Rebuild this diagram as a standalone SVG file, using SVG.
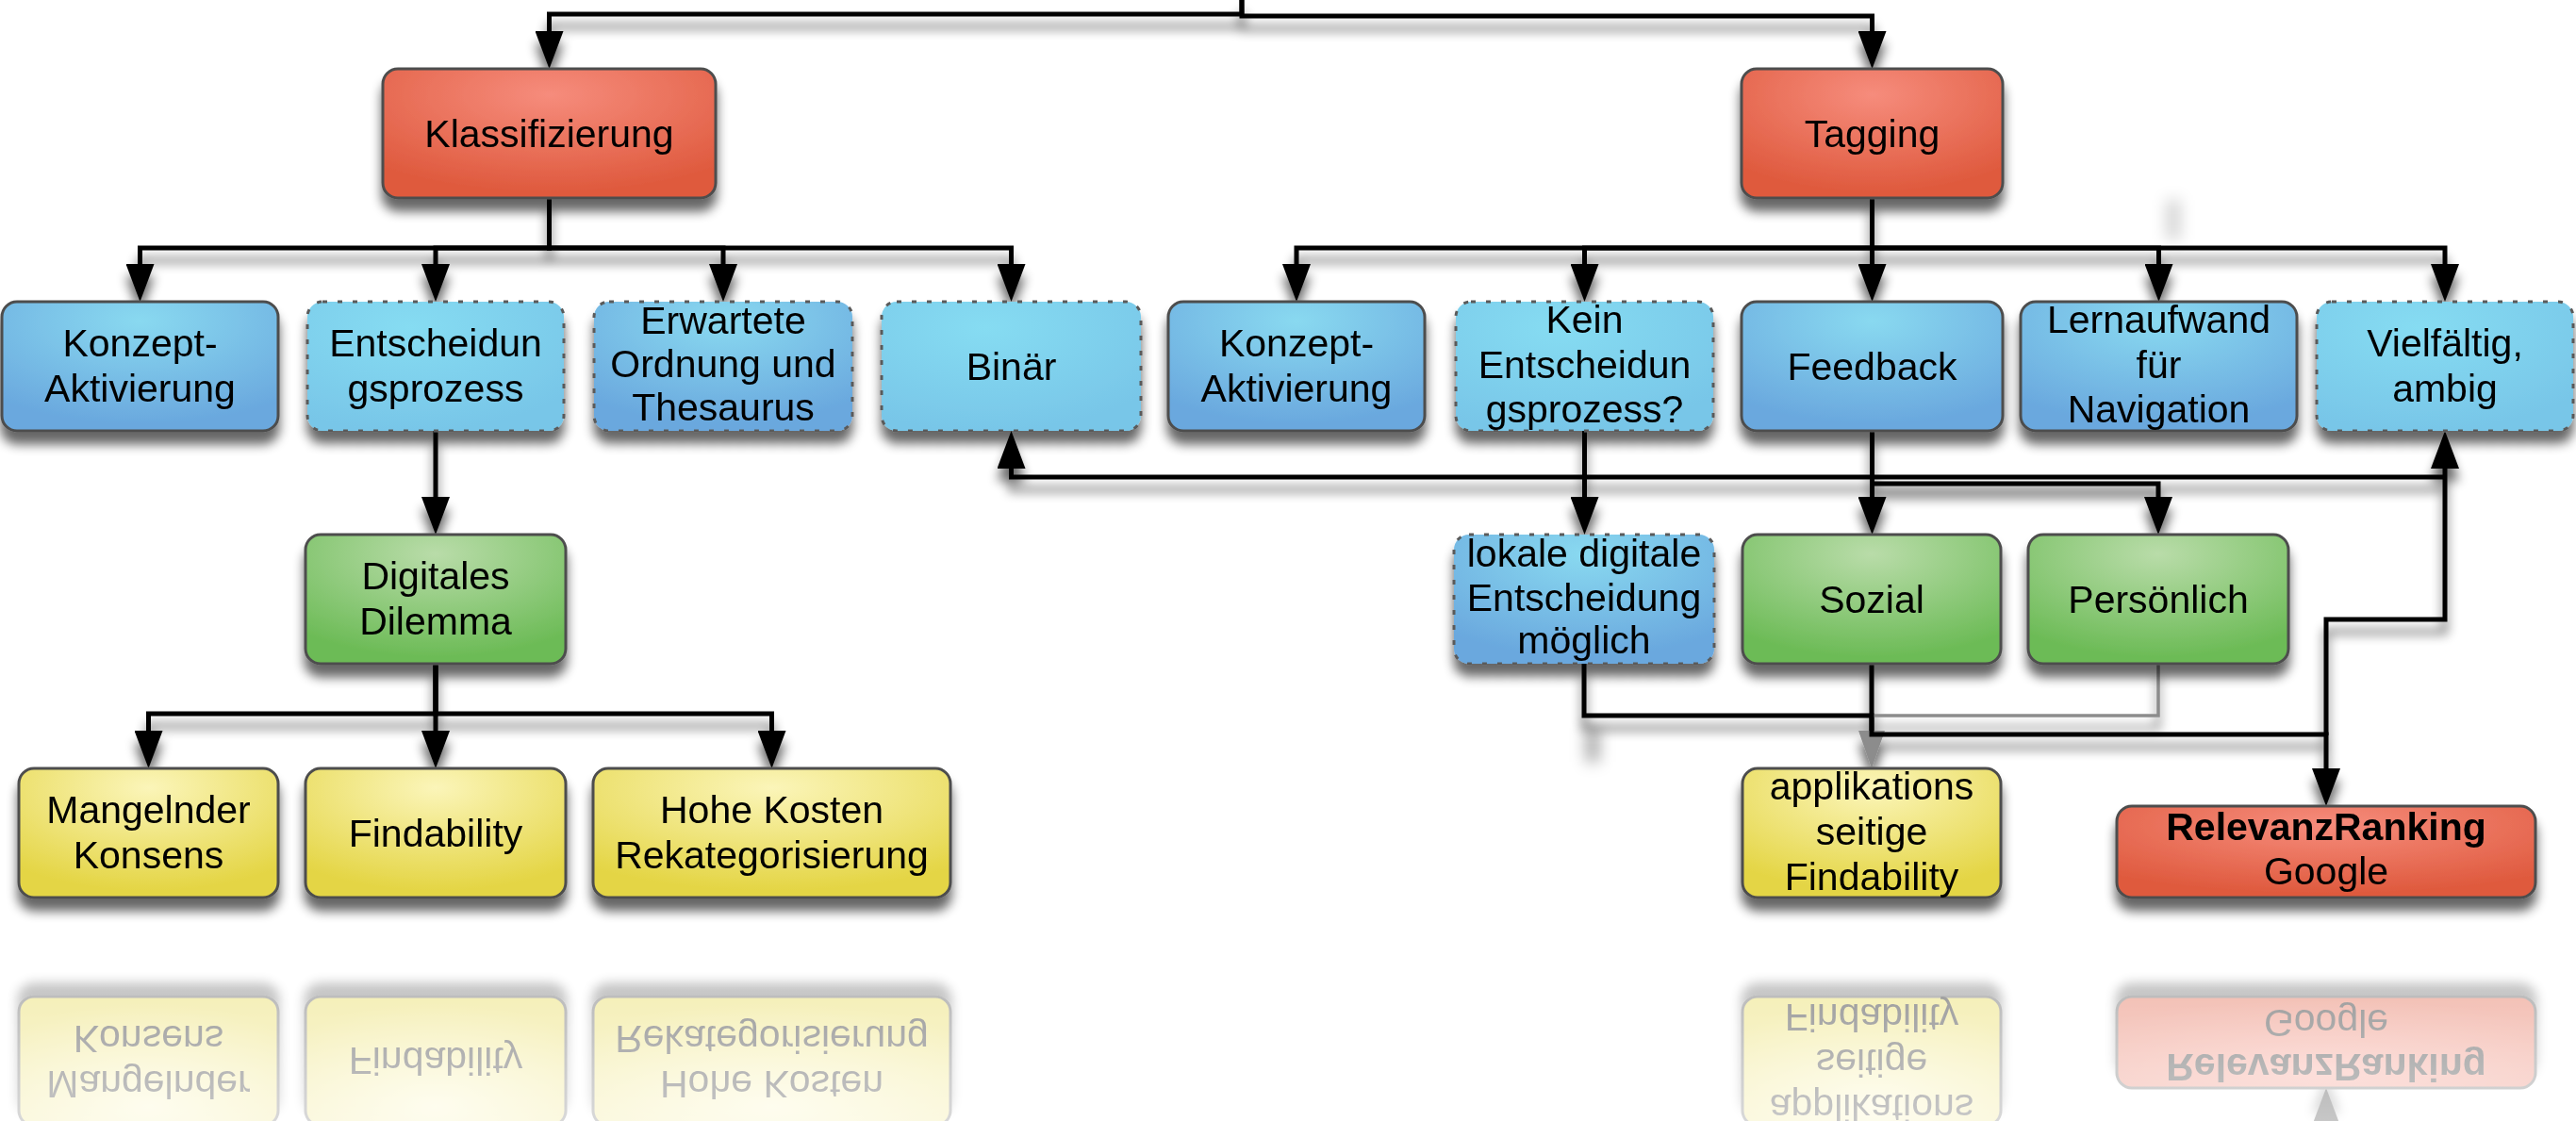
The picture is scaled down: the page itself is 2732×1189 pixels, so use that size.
<svg xmlns="http://www.w3.org/2000/svg" xmlns:xlink="http://www.w3.org/1999/xlink" width="2732" height="1189" viewBox="0 0 2732 1189">
<style>
.node{filter:url(#shadow)}
.box{stroke:#4d4d4d;stroke-width:3}
.dash{stroke:#5a5a5a;stroke-dasharray:5 11}
.red{fill:url(#gRed)}
.blue{fill:url(#gBlue)}
.cyan{fill:url(#gCyan)}
.green{fill:url(#gGreen)}
.yellow{fill:url(#gYellow)}
text{font-family:"Liberation Sans",Arial,Helvetica,sans-serif;font-size:41px;fill:#000;text-anchor:middle}
.b{font-weight:bold}
#connectors path{fill:none;stroke:#000;stroke-width:5;stroke-linejoin:miter}
#connectors path.arr{marker-end:url(#arr)}
#connectors path.gray{stroke:#8c8c8c;stroke-width:3.5;marker-end:url(#arrGray)}
</style>
<defs>
<filter id="shadow" x="-15%" y="-15%" width="130%" height="150%">
<feGaussianBlur in="SourceAlpha" stdDeviation="6"/>
<feOffset dy="13"/>
<feComponentTransfer><feFuncA type="linear" slope="0.6"/></feComponentTransfer>
<feMerge><feMergeNode/><feMergeNode in="SourceGraphic"/></feMerge>
</filter>
<filter id="blur" x="-200%" y="-100%" width="500%" height="300%"><feGaussianBlur stdDeviation="8"/></filter>
<radialGradient id="gRed" cx="50%" cy="20%" r="75%"><stop offset="0" stop-color="#F68C7C"/><stop offset="1" stop-color="#DF5A3E"/></radialGradient>
<radialGradient id="gBlue" cx="50%" cy="15%" r="80%"><stop offset="0" stop-color="#89D9F0"/><stop offset="1" stop-color="#6AA8DE"/></radialGradient>
<radialGradient id="gCyan" cx="40%" cy="20%" r="80%"><stop offset="0" stop-color="#86DCF2"/><stop offset="1" stop-color="#78C6E8"/></radialGradient>
<radialGradient id="gGreen" cx="50%" cy="15%" r="80%"><stop offset="0" stop-color="#B9DCA9"/><stop offset="1" stop-color="#6CBB56"/></radialGradient>
<radialGradient id="gYellow" cx="50%" cy="15%" r="80%"><stop offset="0" stop-color="#FBF5B9"/><stop offset="1" stop-color="#E4D544"/></radialGradient>
<linearGradient id="fade" gradientUnits="userSpaceOnUse" x1="0" y1="990" x2="0" y2="1189"><stop offset="0" stop-color="#fff" stop-opacity="0.45"/><stop offset="1" stop-color="#fff" stop-opacity="0.22"/></linearGradient>
<mask id="refMask" maskUnits="userSpaceOnUse" x="0" y="990" width="2732" height="200"><rect x="0" y="990" width="2732" height="200" fill="url(#fade)"/></mask>
<marker id="arr" viewBox="0 0 40 30" refX="0" refY="15" markerWidth="40" markerHeight="30" markerUnits="userSpaceOnUse" orient="auto"><path d="M0,0 L40,15 L0,30 Z" fill="#000"/></marker>
<marker id="arrGray" viewBox="0 0 40 30" refX="0" refY="15" markerWidth="40" markerHeight="30" markerUnits="userSpaceOnUse" orient="auto"><path d="M0,1 L40,15 L0,29 Z" fill="#8c8c8c"/></marker>
</defs>
<rect x="0" y="0" width="2732" height="1189" fill="#fff"/>

<g id="artifacts" fill="#000" filter="url(#blur)">
<rect x="2298" y="212" width="14" height="42" opacity="0.18"/>
<rect x="1682" y="772" width="14" height="36" opacity="0.35"/>
</g>

<g id="connectors" filter="url(#shadow)">
<path class="arr" d="M1317,0 V15 H582.5 V33"/>
<path class="arr" d="M1317,0 V17 H1985.5 V33"/>
<path class="arr" d="M582.5,210 V263 H148.5 V280"/>
<path class="arr" d="M582.5,210 V263 H462 V280"/>
<path class="arr" d="M582.5,210 V263 H767 V280"/>
<path class="arr" d="M582.5,210 V263 H1072.5 V280"/>
<path class="arr" d="M1985.5,210 V263 H1375 V280"/>
<path class="arr" d="M1985.5,210 V263 H1680.5 V280"/>
<path class="arr" d="M1985.5,210 V280"/>
<path class="arr" d="M1985.5,210 V263 H2289.5 V280"/>
<path class="arr" d="M1985.5,210 V263 H2593 V280"/>
<path class="arr" d="M462,457 V527"/>
<path class="arr" d="M462,704 V757 H157.5 V775"/>
<path class="arr" d="M462,704 V775"/>
<path class="arr" d="M462,704 V757 H818.5 V775"/>
<path class="arr" d="M1680.5,457 V527"/>
<path class="arr" d="M1985.5,457 V527"/>
<path class="arr" d="M1985.5,457 V513 H2289 V527"/>
<path d="M1680,704 V759 H1985 V775"/>
<path class="gray" d="M2289,704 V759 H1985 V775"/>
<path class="arr" d="M1985,704 V779 H2467 V815"/>
<path class="arr" d="M2467,780 V657 H2593 V497"/>
<path class="arr" d="M2593,506 H1072.5 V497"/>
</g>

<g id="n-klass" class="node"><rect class="box red" x="406" y="73" width="353" height="137" rx="16"/><text><tspan x="582.5" y="155.5">Klassifizierung</tspan></text></g>
<g id="n-tagging" class="node"><rect class="box red" x="1847" y="73" width="277" height="137" rx="16"/><text><tspan x="1985.5" y="155.5">Tagging</tspan></text></g>

<g id="n-konzept1" class="node"><rect class="box blue" x="2" y="320" width="293" height="137" rx="16"/><text><tspan x="148.5" y="378">Konzept-</tspan><tspan x="148.5" y="426">Aktivierung</tspan></text></g>
<g id="n-entsch" class="node"><rect class="box cyan dash" x="326" y="320" width="272" height="137" rx="16"/><text><tspan x="462" y="378">Entscheidun</tspan><tspan x="462" y="426">gsprozess</tspan></text></g>
<g id="n-erwartete" class="node"><rect class="box blue dash" x="630" y="320" width="274" height="137" rx="16"/><text><tspan x="767" y="354">Erwartete</tspan><tspan x="767" y="400">Ordnung und</tspan><tspan x="767" y="446">Thesaurus</tspan></text></g>
<g id="n-binaer" class="node"><rect class="box cyan dash" x="935" y="320" width="275" height="137" rx="16"/><text><tspan x="1072.5" y="402.5">Binär</tspan></text></g>
<g id="n-konzept2" class="node"><rect class="box blue" x="1239" y="320" width="272" height="137" rx="16"/><text><tspan x="1375" y="378">Konzept-</tspan><tspan x="1375" y="426">Aktivierung</tspan></text></g>
<g id="n-kein" class="node"><rect class="box cyan dash" x="1544" y="320" width="273" height="137" rx="16"/><text><tspan x="1680.5" y="353">Kein</tspan><tspan x="1680.5" y="401">Entscheidun</tspan><tspan x="1680.5" y="448">gsprozess?</tspan></text></g>
<g id="n-feedback" class="node"><rect class="box blue" x="1847" y="320" width="277" height="137" rx="16"/><text><tspan x="1985.5" y="402.5">Feedback</tspan></text></g>
<g id="n-lern" class="node"><rect class="box blue" x="2143" y="320" width="293" height="137" rx="16"/><text><tspan x="2289.5" y="353">Lernaufwand</tspan><tspan x="2289.5" y="401">für</tspan><tspan x="2289.5" y="448">Navigation</tspan></text></g>
<g id="n-viel" class="node"><rect class="box cyan dash" x="2457" y="320" width="272" height="137" rx="16"/><text><tspan x="2593" y="378">Vielfältig,</tspan><tspan x="2593" y="426">ambig</tspan></text></g>

<g id="n-digital" class="node"><rect class="box green" x="324" y="567" width="276" height="137" rx="16"/><text><tspan x="462" y="625">Digitales</tspan><tspan x="462" y="673">Dilemma</tspan></text></g>
<g id="n-lokale" class="node"><rect class="box blue dash" x="1542" y="567" width="276" height="137" rx="16"/><text><tspan x="1680" y="601">lokale digitale</tspan><tspan x="1680" y="648">Entscheidung</tspan><tspan x="1680" y="693">möglich</tspan></text></g>
<g id="n-sozial" class="node"><rect class="box green" x="1848" y="567" width="274" height="137" rx="16"/><text><tspan x="1985" y="650">Sozial</tspan></text></g>
<g id="n-pers" class="node"><rect class="box green" x="2151" y="567" width="276" height="137" rx="16"/><text><tspan x="2289" y="650">Persönlich</tspan></text></g>

<g id="n-mangel" class="node"><rect class="box yellow" x="20" y="815" width="275" height="137" rx="16"/><text><tspan x="157.5" y="873">Mangelnder</tspan><tspan x="157.5" y="921">Konsens</tspan></text></g>
<g id="n-find" class="node"><rect class="box yellow" x="324" y="815" width="276" height="137" rx="16"/><text><tspan x="462" y="897.5">Findability</tspan></text></g>
<g id="n-hohe" class="node"><rect class="box yellow" x="629" y="815" width="379" height="137" rx="16"/><text><tspan x="818.5" y="873">Hohe Kosten</tspan><tspan x="818.5" y="921">Rekategorisierung</tspan></text></g>
<g id="n-appl" class="node"><rect class="box yellow" x="1848" y="815" width="274" height="137" rx="16"/><text><tspan x="1985" y="848">applikations</tspan><tspan x="1985" y="896">seitige</tspan><tspan x="1985" y="944">Findability</tspan></text></g>
<g id="n-relevanz" class="node"><rect class="box red" x="2245" y="855" width="444" height="97" rx="16"/><text><tspan class="b" x="2467" y="891">RelevanzRanking</tspan><tspan x="2467" y="938">Google</tspan></text></g>

<g id="reflection" mask="url(#refMask)">
<g transform="matrix(1 0 0 -1 0 2009)">
<use href="#connectors"/>
<use href="#n-mangel"/>
<use href="#n-find"/>
<use href="#n-hohe"/>
<use href="#n-appl"/>
<use href="#n-relevanz"/>
</g>
</g>
</svg>
